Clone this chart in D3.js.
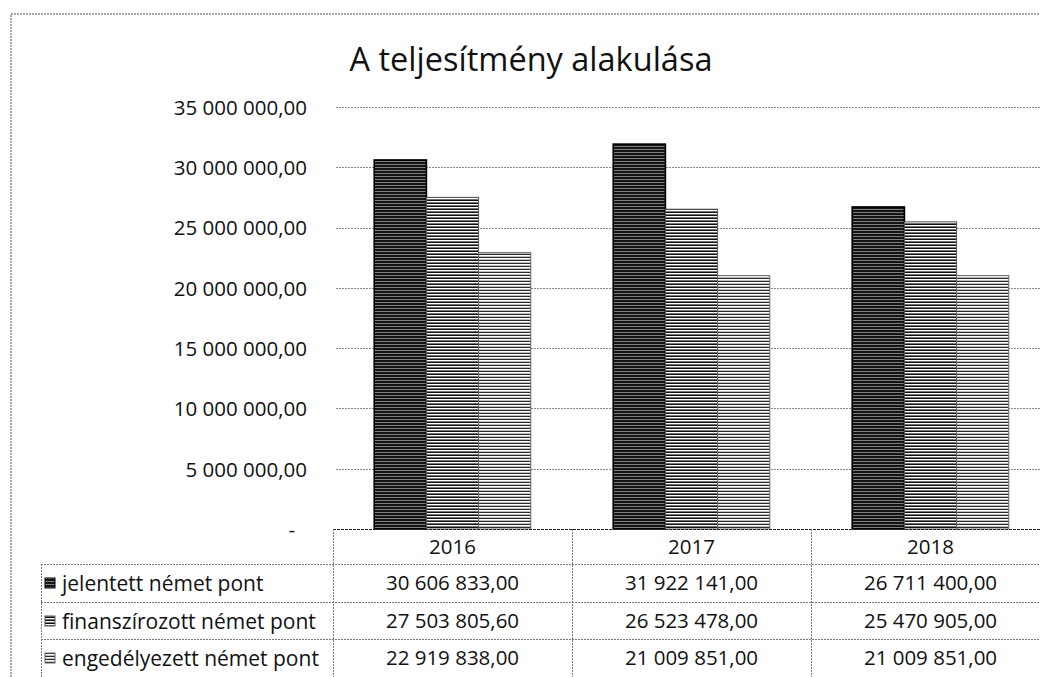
<!DOCTYPE html>
<html>
<head>
<meta charset="utf-8">
<script src="https://cdn.jsdelivr.net/npm/d3@7"></script>
<style>
  body { margin: 0; background: #fff; }
  svg { display: block; font-family: "Open Sans", Lato, sans-serif; }
</style>
</head>
<body>
<svg id="chart"></svg>
<script>
const width = 1040;
const height = 677;

const years = ["2016", "2017", "2018"];
const seriesNames = [
  "jelentett német pont",
  "finanszírozott német pont",
  "engedélyezett német pont",
];
const jelentett = [30606833.0, 31922141.0, 26711400.0];
const finanszirozott = [27503805.6, 26523478.0, 25470905.0];
const engedelyezett = [22919838.0, 21009851.0, 21009851.0];
const yTicks = [0, 5000000, 10000000, 15000000, 20000000, 25000000, 30000000, 35000000];

const seriesValues = [jelentett, finanszirozott, engedelyezett];

const huLocale = d3.formatLocale({
  decimal: ",",
  thousands: "\u00a0",
  grouping: [3],
  currency: ["", ""],
});
const fmt = huLocale.format(",.2f");

const plot = { left: 333, right: 1050, top: 107, bottom: 529 };
const table = { left: 41, top: 529, headerBottom: 564, rowH: 38 };

const svg = d3.select("#chart").attr("width", width).attr("height", height);

// patterns for the scanned hatch look
const defs = svg.append("defs");
const patterns = [
  { id: "p0", bg: "#141414", line: "#ffffff", op: 0.45, w: 1, step: 3 },
  { id: "p1", bg: "#ffffff", line: "#111111", op: 1, w: 1.6, step: 3 },
  { id: "p2", bg: "#ffffff", line: "#2a2a2a", op: 1, w: 1.3, step: 3 },
];
patterns.forEach((p) => {
  const pat = defs
    .append("pattern")
    .attr("id", p.id)
    .attr("patternUnits", "userSpaceOnUse")
    .attr("width", 6)
    .attr("height", p.step);
  pat.append("rect").attr("width", 6).attr("height", p.step).attr("fill", p.bg);
  pat
    .append("line")
    .attr("x1", 0)
    .attr("x2", 6)
    .attr("y1", p.step - p.w / 2)
    .attr("y2", p.step - p.w / 2)
    .attr("stroke", p.line)
    .attr("stroke-opacity", p.op)
    .attr("stroke-width", p.w);
});
const barStroke = ["#000", "#555", "#666"];

// outer chart border (dotted, as on the scan)
svg
  .append("path")
  .attr("d", `M11,${height} V14 H${width}`)
  .attr("fill", "none")
  .attr("stroke", "#555")
  .attr("stroke-dasharray", "2,1");

// title
svg
  .append("text")
  .attr("x", 531)
  .attr("y", 71)
  .attr("text-anchor", "middle")
  .attr("font-size", "32.5px")
  .attr("fill", "#111")
  .text("A teljesítmény alakulása");

const y = d3.scaleLinear().domain([0, 35000000]).range([plot.bottom, plot.top]);

const x = d3.scaleBand().domain(years).range([plot.left, plot.right]).padding(0);
const xs = d3
  .scaleBand()
  .domain(d3.range(seriesNames.length))
  .range([0, x.bandwidth()])
  .paddingInner(0)
  .paddingOuter(0.79);

// gridlines
svg
  .append("g")
  .selectAll("line")
  .data(yTicks.filter((d) => d > 0))
  .join("line")
  .attr("x1", plot.left + 3)
  .attr("x2", width)
  .attr("y1", (d) => Math.round(y(d)) + 0.5)
  .attr("y2", (d) => Math.round(y(d)) + 0.5)
  .attr("stroke", "#888")
  .attr("stroke-dasharray", "2,1");

// y axis labels
const yAxis = d3
  .axisLeft(y)
  .tickValues(yTicks)
  .tickSize(0)
  .tickPadding(0)
  .tickFormat((d) => (d === 0 ? "-" : fmt(d)));

const yg = svg
  .append("g")
  .attr("transform", "translate(307,0)")
  .call(yAxis);
yg.select(".domain").remove();
yg.selectAll("text")
  .attr("font-size", "20.5px")
  .attr("font-family", "'Open Sans', sans-serif")
  .attr("fill", "#111")
  .attr("dy", "0.36em")
  .attr("dx", (d) => (d === 0 ? -12 : 0));

// bars
const barData = [];
years.forEach((yr, i) => {
  seriesValues.forEach((vals, s) => {
    barData.push({ year: yr, s: s, value: vals[i] });
  });
});

svg
  .append("g")
  .selectAll("rect")
  .data(barData)
  .join("rect")
  .attr("x", (d) => x(d.year) + xs(d.s))
  .attr("y", (d) => y(d.value))
  .attr("width", xs.bandwidth())
  .attr("height", (d) => y(0) - y(d.value))
  .attr("fill", (d) => `url(#p${d.s})`)
  .attr("stroke", (d) => barStroke[d.s])
  .attr("stroke-width", (d) => (d.s === 0 ? 1.6 : 1));

// zero axis line
svg
  .append("line")
  .attr("x1", plot.left)
  .attr("x2", width)
  .attr("y1", y(0) + 0.5)
  .attr("y2", y(0) + 0.5)
  .attr("stroke", "#222")
  .attr("stroke-width", 1.2)
  .attr("stroke-dasharray", "3,1");

// data table
const tg = svg.append("g");
const lineStyle = (sel) =>
  sel.attr("stroke", "#777").attr("stroke-dasharray", "2,1").attr("fill", "none");

const rowTop = (r) => table.headerBottom + r * table.rowH - (r > 1 ? 1 : 0);

// horizontal lines
[0, 1, 2].forEach((r) => {
  tg.append("line")
    .attr("x1", table.left)
    .attr("x2", width)
    .attr("y1", rowTop(r) + 0.5)
    .attr("y2", rowTop(r) + 0.5)
    .call(lineStyle);
});
// vertical lines
tg.append("line")
  .attr("x1", table.left + 0.5)
  .attr("x2", table.left + 0.5)
  .attr("y1", table.headerBottom)
  .attr("y2", height)
  .call(lineStyle);
years.forEach((yr) => {
  tg.append("line")
    .attr("x1", Math.round(x(yr)) + 0.5)
    .attr("x2", Math.round(x(yr)) + 0.5)
    .attr("y1", table.top)
    .attr("y2", height)
    .call(lineStyle);
});

// header
tg.selectAll(".hdr")
  .data(years)
  .join("text")
  .attr("class", "hdr")
  .attr("x", (d) => x(d) + x.bandwidth() / 2)
  .attr("y", 554)
  .attr("text-anchor", "middle")
  .attr("font-size", "20.5px")
  .attr("fill", "#111")
  .text((d) => d);

// rows
seriesNames.forEach((name, s) => {
  const cy = rowTop(s) + table.rowH / 2;
  tg.append("rect")
    .attr("x", 45)
    .attr("y", cy - 5)
    .attr("width", 10)
    .attr("height", 10)
    .attr("fill", `url(#p${s})`)
    .attr("stroke", barStroke[s]);
  tg.append("text")
    .attr("x", 62)
    .attr("y", cy)
    .attr("dy", "0.36em")
    .attr("font-size", "21px")
    .attr("fill", "#111")
    .text(name);
  tg.selectAll(null)
    .data(years)
    .join("text")
    .attr("x", (d) => x(d) + x.bandwidth() / 2)
    .attr("y", cy)
    .attr("dy", "0.36em")
    .attr("text-anchor", "middle")
    .attr("font-size", "20.5px")
    .attr("fill", "#111")
    .text((d, i) => fmt(seriesValues[s][i]));
});
</script>
</body>
</html>
